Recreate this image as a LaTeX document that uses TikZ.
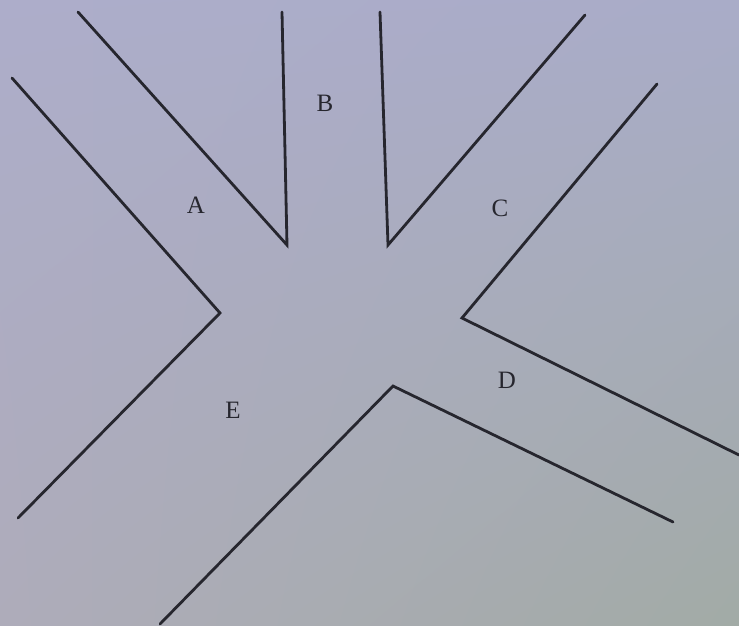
\documentclass[tikz,border=0pt]{standalone}
\usepackage{fontspec}
\setmainfont{Liberation Serif}
\usetikzlibrary{shadings}
\definecolor{bgUL}{HTML}{ADADCA}
\definecolor{bgUR}{HTML}{A9ACC8}
\definecolor{bgLL}{HTML}{AEACBA}
\definecolor{bgLR}{HTML}{A2ABA6}
\definecolor{ink}{HTML}{26262E}
\tikzset{
  wall/.style={draw=ink, line width=2.8pt, line join=miter, line cap=round},
  lbl/.style={text=ink, font=\fontsize{25}{25}\selectfont, inner sep=0pt}
}
\begin{document}
\begin{tikzpicture}[x=1pt,y=-1pt]
\useasboundingbox (0,0) rectangle (739,625);
\shade[upper left=bgUL, upper right=bgUR, lower left=bgLL, lower right=bgLR] (0,0) rectangle (739,625);
\draw[wall] (12,78) -- (220,313) -- (18,518);
\draw[wall] (78,12) -- (287,245) -- (282,12);
\draw[wall] (380,12) -- (388,245) -- (585,15);
\draw[wall] (657,84) -- (462,318) -- (739,455);
\draw[wall] (160,624) -- (393,386) -- (673,522);
\node[lbl] (A) at (196,205) {A};
\node[lbl] (B) at (325,103) {B};
\node[lbl] (C) at (500,208) {C};
\node[lbl] (D) at (507,380) {D};
\node[lbl] (E) at (233,410) {E};
\end{tikzpicture}
\end{document}
